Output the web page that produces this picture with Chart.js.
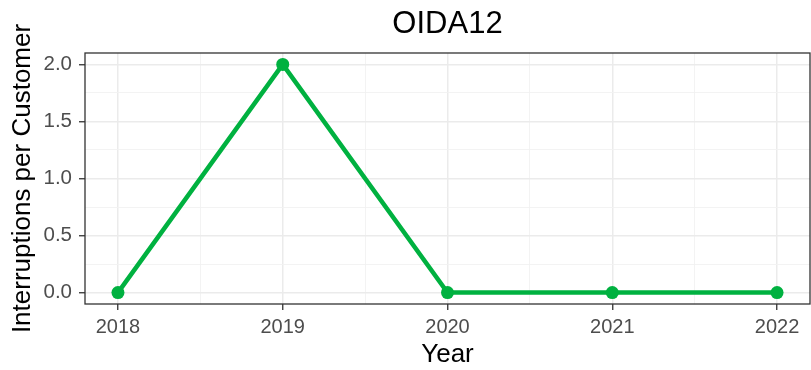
<!DOCTYPE html>
<html><head><meta charset="utf-8">
<script src="https://cdn.jsdelivr.net/npm/chart.js@4/dist/chart.umd.min.js"></script>
<style>html,body{margin:0;padding:0;background:#fff}#wrap{width:811px;height:370px}</style>
</head><body><div id="wrap"><canvas id="c" width="811" height="370"></canvas></div>
<script>
const chartTitle = 'OIDA12';
const xAxisTitle = 'Year';
const yAxisTitle = 'Interruptions per Customer';
const years = [2018, 2019, 2020, 2021, 2022];
const interruptions = [0, 2, 0, 0, 0];
const yMajorTicks = [0, 0.5, 1, 1.5, 2];
const yMinorTicks = [0.25, 0.75, 1.25, 1.75];
const xMajorTicks = [2018, 2019, 2020, 2021, 2022];
const xMinorTicks = [2018.5, 2019.5, 2020.5, 2021.5];

const FONT = "'Liberation Sans', Arial, Helvetica, sans-serif";
const points = years.map((y, i) => ({x: y, y: interruptions[i]}));

function tickBuilder(majors, minors) {
  return function(scale) {
    const all = majors.map(v => ({value: v, isMinor: false}))
      .concat(minors.map(v => ({value: v, isMinor: true})));
    all.sort((a, b) => a.value - b.value);
    scale.ticks = all;
  };
}
function gridOpts(majors) {
  const isMajor = v => majors.some(m => Math.abs(m - v) < 1e-9);
  return {
    color: c => c.tick && isMajor(c.tick.value) ? '#EBEBEB' : '#F2F2F2',
    lineWidth: c => c.tick && isMajor(c.tick.value) ? 1.5 : 0.9,
    tickColor: c => c.tick && isMajor(c.tick.value) ? '#333333' : 'rgba(0,0,0,0)',
    tickWidth: 1.3,
    tickLength: 6,
    drawTicks: true
  };
}

const panelPlugin = {
  id: 'panel',
  afterDraw(chart) {
    const {ctx, chartArea: a} = chart;
    ctx.save();
    ctx.strokeStyle = '#333333';
    ctx.lineWidth = 1.3;
    ctx.strokeRect(a.left, a.top, a.right - a.left, a.bottom - a.top);
    ctx.fillStyle = '#000';
    ctx.font = '31px ' + FONT;
    ctx.textAlign = 'center';
    ctx.textBaseline = 'middle';
    ctx.fillText(chartTitle, (a.left + a.right) / 2, 24);
    ctx.restore();
  }
};

new Chart(document.getElementById('c'), {
  type: 'line',
  data: {
    datasets: [{
      data: points,
      borderColor: '#00B140',
      backgroundColor: '#00B140',
      borderWidth: 4.5,
      pointRadius: 6.5,
      pointHoverRadius: 6.5,
      pointBorderWidth: 0,
      tension: 0,
      clip: false
    }]
  },
  options: {
    responsive: false,
    devicePixelRatio: 1,
    animation: false,
    events: [],
    layout: {autoPadding: false, padding: {top: 53, left: 0, right: 1, bottom: 0}},
    plugins: {legend: {display: false}, tooltip: {enabled: false}, title: {display: false}},
    scales: {
      x: {
        type: 'linear',
        min: 2017.8, max: 2022.2,
        afterBuildTicks: tickBuilder(xMajorTicks, xMinorTicks),
        afterFit: s => { s.height = 66; s.paddingLeft = 0; s.paddingRight = 0; },
        grid: gridOpts(xMajorTicks),
        border: {display: false},
        ticks: {
          autoSkip: false, maxRotation: 0, padding: 5,
          color: '#4D4D4D', font: {family: FONT, size: 20},
          callback: v => xMajorTicks.includes(v) ? String(v) : ''
        },
        title: {display: true, text: xAxisTitle, color: '#000', font: {family: FONT, size: 26}, padding: {top: 0, bottom: 0}}
      },
      y: {
        type: 'linear',
        min: -0.1, max: 2.1,
        afterBuildTicks: tickBuilder(yMajorTicks, yMinorTicks),
        afterFit: s => { s.width = 85; s.paddingTop = 0; s.paddingBottom = 0; },
        grid: gridOpts(yMajorTicks),
        border: {display: false},
        ticks: {
          autoSkip: false, padding: 7,
          color: '#4D4D4D', font: {family: FONT, size: 20.5},
          callback: v => yMajorTicks.some(m => Math.abs(m - v) < 1e-9) ? v.toFixed(1) : ''
        },
        title: {display: true, text: yAxisTitle, color: '#000', font: {family: FONT, size: 26}, padding: {top: 7, bottom: 0}}
      }
    }
  },
  plugins: [panelPlugin]
});
</script></body></html>
